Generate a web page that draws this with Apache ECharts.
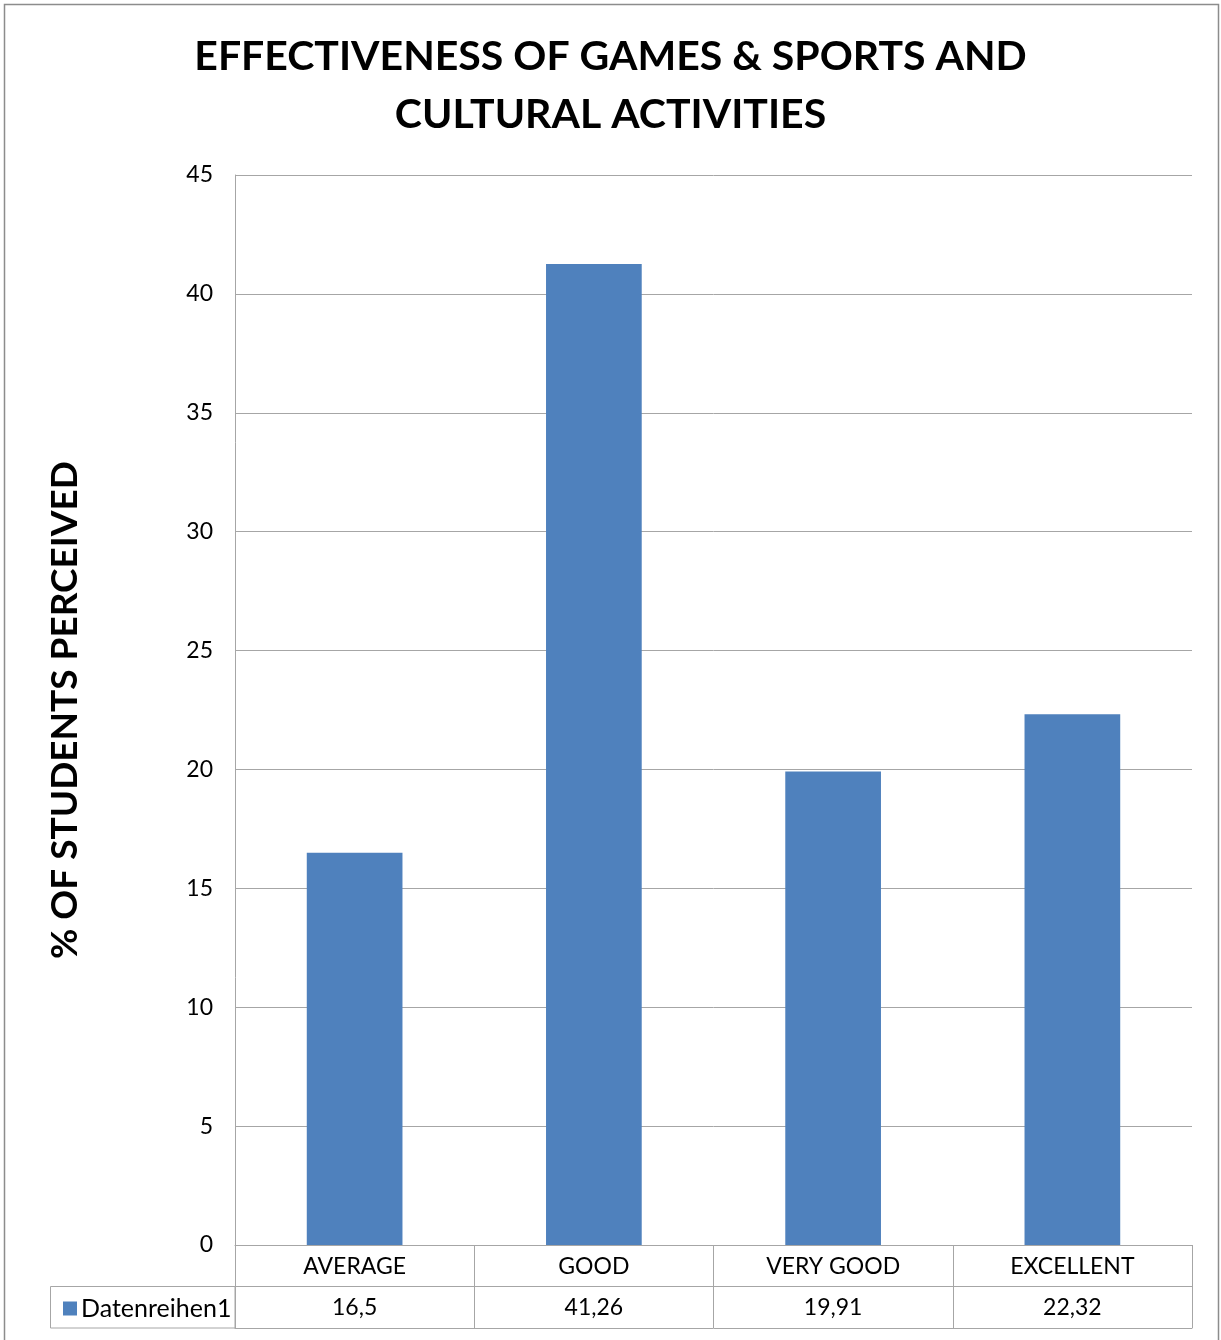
<!DOCTYPE html>
<html>
<head>
<meta charset="utf-8">
<script src="https://cdn.jsdelivr.net/npm/echarts@6/dist/echarts.min.js"></script>
<style>
html,body{margin:0;padding:0;background:#fff;}
#chart{width:1221px;height:1340px;}
</style>
</head>
<body>
<div id="chart"></div>
<script>
const categories = ['AVERAGE', 'GOOD', 'VERY GOOD', 'EXCELLENT'];
const values = [16.5, 41.26, 19.91, 22.32];
const seriesName = 'Datenreihen1';
const yTicks = {min: 0, max: 45, interval: 5};
const titleText = 'EFFECTIVENESS OF GAMES & SPORTS AND\nCULTURAL ACTIVITIES';
const yAxisName = '% OF STUDENTS PERCEIVED';

const valueLabels = values.map(v => String(v).replace('.', ','));
const FONT = 'Lato';
const GRID_COLOR = '#a6a6a6';
const BAR_COLOR = '#4f81bd';

const chart = echarts.init(document.getElementById('chart'));
chart.setOption({
  backgroundColor: '#fff',
  textStyle: {fontFamily: FONT},
  title: {
    text: titleText,
    left: 'center',
    top: 23,
    textStyle: {fontFamily: FONT, fontSize: 41, fontWeight: 'bold', color: '#000', lineHeight: 58}
  },
  legend: {
    data: [seriesName],
    left: 58,
    top: 1291,
    icon: 'rect',
    itemWidth: 14,
    itemHeight: 14,
    itemGap: 6,
    textStyle: {fontFamily: FONT, fontSize: 25, color: '#000', padding: [0, 0, 0, -1]},
    selectedMode: false
  },
  grid: {left: 235, right: 29, top: 175, bottom: 95, containLabel: false},
  xAxis: [
    {
      type: 'category',
      data: categories,
      position: 'bottom',
      axisLine: {show: true, lineStyle: {color: GRID_COLOR, width: 1}},
      axisTick: {show: true, alignWithLabel: false, interval: 0, length: 83, lineStyle: {color: GRID_COLOR, width: 1}},
      axisLabel: {show: true, interval: 0, fontFamily: FONT, fontSize: 23, color: '#000', margin: 10}
    },
    {
      type: 'category',
      data: valueLabels,
      position: 'bottom',
      offset: 41,
      axisLine: {show: true, lineStyle: {color: GRID_COLOR, width: 1}},
      axisTick: {show: false},
      axisLabel: {show: true, interval: 0, fontFamily: FONT, fontSize: 23, color: '#000', margin: 10}
    },
    {
      type: 'category',
      data: categories,
      position: 'bottom',
      offset: 83,
      axisLine: {show: true, lineStyle: {color: GRID_COLOR, width: 1}},
      axisTick: {show: false},
      axisLabel: {show: false}
    }
  ],
  yAxis: {
    type: 'value',
    min: yTicks.min,
    max: yTicks.max,
    interval: yTicks.interval,
    name: yAxisName,
    nameLocation: 'middle',
    nameGap: 151,
    nameRotate: 90,
    nameTextStyle: {fontFamily: FONT, fontSize: 37, fontWeight: 'bold', color: '#000'},
    axisLine: {show: true, lineStyle: {color: GRID_COLOR, width: 1}},
    axisTick: {show: false},
    axisLabel: {fontFamily: FONT, fontSize: 23, color: '#000', margin: 22},
    splitLine: {show: true, lineStyle: {color: GRID_COLOR, width: 1}}
  },
  series: [{
    name: seriesName,
    type: 'bar',
    xAxisIndex: 0,
    data: values,
    barWidth: '40%',
    itemStyle: {color: BAR_COLOR},
    animation: false
  }],
  graphic: [
    {type: 'rect', shape: {x: 4.5, y: 4.5, width: 1214, height: 1345}, style: {fill: null, stroke: '#8c8c8c', lineWidth: 1.5}, silent: true, z: -1},
    {type: 'rect', shape: {x: 50.5, y: 1286.5, width: 184.5, height: 41.5}, style: {fill: null, stroke: GRID_COLOR, lineWidth: 1}, silent: true}
  ],
  animation: false
});
</script>
</body>
</html>
